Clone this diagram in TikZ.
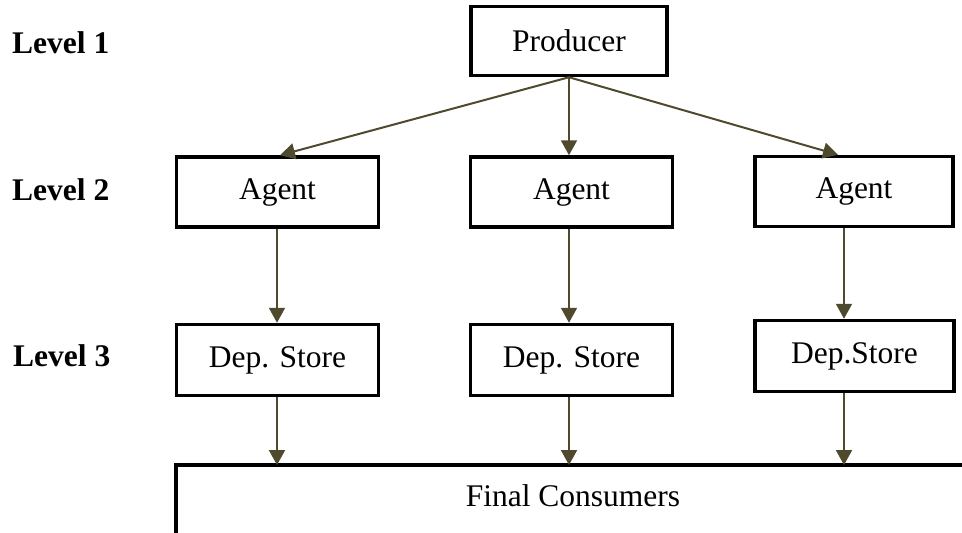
\documentclass[tikz,border=0pt]{standalone}
\usepackage{fontspec}
\setmainfont{Liberation Serif}
\usetikzlibrary{arrows.meta}
\definecolor{flowline}{RGB}{79,73,45}
\newcommand{\chartsize}{\fontsize{31.5}{36}\selectfont}
\tikzset{
  box/.style={draw=black, line width=3.5pt, inner sep=0pt, minimum height=70pt, text=black},
  levellabel/.style={anchor=west, inner sep=0pt, font=\chartsize\bfseries},
  flow/.style={draw=flowline, line width=2pt, -{Triangle[length=15pt,width=16pt]}},
  rail/.style={draw=black, line width=3.5pt}
}
\begin{document}
\begin{tikzpicture}[x=1pt, y=-1pt, font=\chartsize]
\useasboundingbox (0,0) rectangle (962,533);

% level captions
\node[levellabel] (l1) at (12,43) {Level 1};
\node[levellabel] (l2) at (12,190) {Level 2};
\node[levellabel] (l3) at (13,356) {Level 3};

% boxes
\node[box, minimum width=196pt, minimum height=69pt] (prod) at (569,41) {Producer};
\node[box, minimum width=202pt] (ag1) at (277.5,192) {Agent};
\node[box, minimum width=202pt] (ag2) at (571.5,192) {Agent};
\node[box, minimum width=198pt] (ag3) at (854,191.5) {Agent};
\node[box, minimum width=202pt, minimum height=71pt] (ds1) at (277.5,360) {Dep. Store};
\node[box, minimum width=202pt, minimum height=71pt] (ds2) at (571.5,360) {Dep. Store};
\node[box, minimum width=199pt, minimum height=71pt] (ds3) at (854.5,356) {Dep.Store};

% open frame of the consumers band
\coordinate (fcL) at (176,465);
\coordinate (fcR) at (962,465);
\coordinate (fcB) at (176,533);
\draw[rail] (fcB) -- (fcL) -- (fcR);
\node[inner sep=0pt] (fc) at (573,496) {Final Consumers};

% producer to agents
\coordinate (c1) at (277,0);
\coordinate (c2) at (569,0);
\coordinate (c3) at (844,0);
\draw[flow] (prod.south) -- ([xshift=2.5pt]ag1.north);
\draw[flow] (prod.south) -- (prod.south |- ag2.north);
\draw[flow] (prod.south) -- ([xshift=-16pt]ag3.north);

% agents to stores
\draw[flow] (c1 |- ag1.south) -- (c1 |- ds1.north);
\draw[flow] (c2 |- ag2.south) -- (c2 |- ds2.north);
\draw[flow] (c3 |- ag3.south) -- (c3 |- ds3.north);

% stores to consumers
\draw[flow] (c1 |- ds1.south) -- (c1 |- fcL);
\draw[flow] (c2 |- ds2.south) -- (c2 |- fcL);
\draw[flow] (c3 |- ds3.south) -- (c3 |- fcL);
\end{tikzpicture}
\end{document}
